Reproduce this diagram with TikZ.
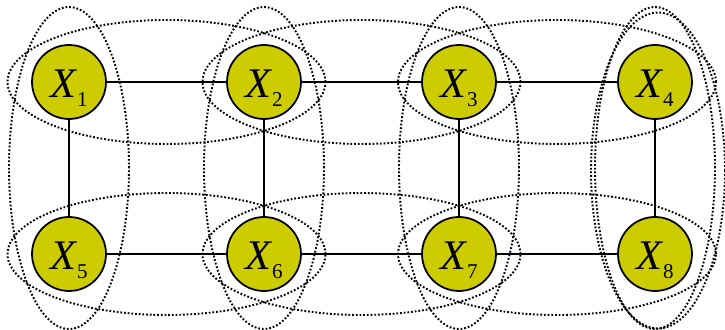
\documentclass[tikz,border=0pt]{standalone}
\usepackage{fontspec}
\setmainfont{Liberation Serif}
\usetikzlibrary{calc,backgrounds}
\definecolor{varyellow}{RGB}{204,204,0}
\tikzset{
  var/.style    = {circle,draw=black,line width=1pt,fill=varyellow,
                   minimum size=1.48cm,inner sep=0pt,
                   text height=18pt,text depth=0pt},
  link/.style   = {line width=1pt},
  clique/.style = {line width=1.1pt,dash pattern=on 1pt off 1.1pt},
}
\newcommand{\varlab}[1]{{\fontsize{24}{24}\selectfont\itshape X}%
  \kern0.5pt\raisebox{-5pt}{\fontsize{12}{12}\selectfont #1}}

\begin{document}
\begin{tikzpicture}[x=0.02cm,y=-0.02cm]
  \useasboundingbox (0,0) rectangle (725,330);
  % variables
  \foreach \n/\x/\y in {1/69/82,2/264/82,3/459/82,4/655/82,
                        5/69/254,6/264/254,7/459/254,8/655/254}{
    \node[var] (X\n) at (\x,\y) {\varlab{\n}};
  }
  % edges of the grid
  \foreach \a/\b in {1/2,2/3,3/4,5/6,6/7,7/8,1/5,2/6,3/7,4/8}{
    \draw[link] (X\a) -- (X\b);
  }
  % cliques
  \begin{scope}[on background layer]
    \foreach \a/\b in {1/2,2/3,3/4}{
      \draw[clique] ($(X\a)!0.5!(X\b)$) ellipse [x radius=3.18cm,y radius=1.24cm];
    }
    \foreach \a/\b in {5/6,6/7,7/8}{
      \draw[clique] ($(X\a)!0.5!(X\b)$) ellipse [x radius=3.18cm,y radius=1.22cm];
    }
    \foreach \a/\b in {1/5,2/6,3/7,4/8}{
      \draw[clique] ($(X\a)!0.5!(X\b)$) ellipse [x radius=1.2cm,y radius=3.22cm];
    }
    \draw[clique] ($(X4)!0.5!(X8)+(0.06cm,-0.05cm)$) ellipse [x radius=1.34cm,y radius=3.16cm];
  \end{scope}
\end{tikzpicture}
\end{document}
